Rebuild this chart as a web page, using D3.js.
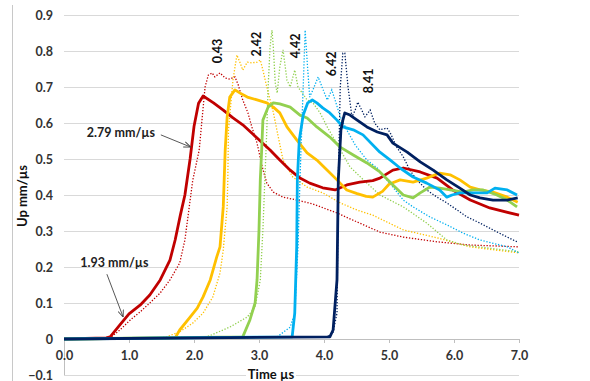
<!DOCTYPE html>
<html>
<head>
<meta charset="utf-8">
<script src="https://cdn.jsdelivr.net/npm/d3@7"></script>
<style>
  body { margin: 0; background: #fff; }
  text { font-family: Lato, "Open Sans", sans-serif; font-weight: bold; }
</style>
</head>
<body>
<div id="chart"></div>
<script>
// time (us), particle velocity (mm/us)
var red = [[0,0],[0.65,0.003],[0.71,0.006],[0.86,0.039],[1.0,0.07],[1.17,0.094],[1.32,0.122],[1.48,0.164],[1.63,0.219],[1.71,0.275],[1.79,0.344],[1.86,0.40],[1.94,0.50],[2.0,0.59],[2.07,0.655],[2.14,0.675],[2.3,0.656],[2.45,0.636],[2.6,0.614],[2.75,0.595],[2.9,0.57],[3.02,0.55],[3.17,0.525],[3.32,0.497],[3.48,0.469],[3.63,0.447],[3.78,0.433],[3.98,0.42],[4.17,0.414],[4.35,0.428],[4.55,0.436],[4.75,0.44],[4.86,0.447],[5.06,0.469],[5.22,0.475],[5.48,0.464],[5.74,0.447],[5.98,0.414],[6.25,0.386],[6.55,0.364],[7.0,0.344]];
var redSim = [[0,0],[0.71,0.003],[0.86,0.025],[1.02,0.053],[1.17,0.075],[1.32,0.1],[1.48,0.128],[1.63,0.164],[1.78,0.211],[1.86,0.275],[1.98,0.44],[2.08,0.525],[2.17,0.7],[2.22,0.733],[2.28,0.739],[2.32,0.728],[2.4,0.739],[2.48,0.725],[2.55,0.722],[2.63,0.728],[2.68,0.706],[2.75,0.664],[2.83,0.628],[2.89,0.589],[2.97,0.544],[3.05,0.478],[3.12,0.433],[3.22,0.408],[3.37,0.394],[3.58,0.386],[3.83,0.375],[4.2,0.35],[4.51,0.325],[4.86,0.297],[5.22,0.283],[5.74,0.27],[6.25,0.261],[7.0,0.256]];
var yellow = [[0,0],[1.71,0.003],[1.78,0.025],[1.94,0.061],[2.05,0.086],[2.14,0.117],[2.25,0.164],[2.35,0.228],[2.4,0.256],[2.45,0.367],[2.48,0.525],[2.51,0.617],[2.55,0.672],[2.63,0.692],[2.71,0.683],[2.82,0.672],[2.97,0.664],[3.12,0.656],[3.22,0.644],[3.32,0.628],[3.43,0.589],[3.58,0.553],[3.74,0.517],[3.89,0.497],[4.05,0.469],[4.2,0.442],[4.35,0.414],[4.51,0.404],[4.65,0.396],[4.75,0.394],[4.9,0.41],[5.0,0.43],[5.17,0.442],[5.37,0.436],[5.58,0.447],[5.78,0.461],[5.94,0.456],[6.09,0.442],[6.25,0.422],[6.4,0.414],[6.6,0.408],[6.82,0.394],[6.98,0.38]];
var yellowSim = [[0,0],[1.5,0.003],[1.58,0.006],[1.78,0.02],[1.98,0.044],[2.14,0.072],[2.29,0.117],[2.4,0.183],[2.45,0.247],[2.51,0.367],[2.52,0.442],[2.53,0.58],[2.6,0.72],[2.66,0.789],[2.71,0.767],[2.75,0.747],[2.82,0.769],[2.89,0.767],[2.97,0.769],[3.02,0.775],[3.06,0.747],[3.12,0.7],[3.22,0.63],[3.29,0.567],[3.37,0.497],[3.52,0.45],[3.74,0.422],[3.98,0.406],[4.25,0.378],[4.51,0.358],[4.75,0.344],[5.22,0.303],[5.74,0.281],[6.25,0.256],[7.0,0.239]];
var green = [[0,0],[2.75,0.006],[2.86,0.053],[2.94,0.1],[2.97,0.164],[3.0,0.303],[3.02,0.442],[3.04,0.52],[3.06,0.608],[3.14,0.644],[3.22,0.656],[3.32,0.653],[3.48,0.644],[3.63,0.622],[3.74,0.614],[3.89,0.589],[4.09,0.561],[4.25,0.533],[4.45,0.511],[4.66,0.489],[4.86,0.464],[5.06,0.428],[5.22,0.4],[5.37,0.392],[5.48,0.406],[5.63,0.422],[5.78,0.419],[5.94,0.414],[6.14,0.408],[6.29,0.414],[6.45,0.414],[6.66,0.4],[6.82,0.386],[6.97,0.367]];
var greenSim = [[0,0],[2.2,0.006],[2.55,0.033],[2.82,0.061],[2.94,0.089],[3.02,0.164],[3.06,0.303],[3.09,0.442],[3.12,0.58],[3.14,0.7],[3.17,0.811],[3.2,0.858],[3.22,0.811],[3.25,0.711],[3.28,0.683],[3.32,0.756],[3.37,0.803],[3.43,0.719],[3.48,0.7],[3.55,0.747],[3.6,0.7],[3.74,0.664],[3.83,0.656],[3.94,0.628],[4.05,0.589],[4.14,0.561],[4.4,0.478],[4.66,0.433],[4.86,0.4],[5.22,0.367],[5.58,0.322],[5.89,0.275],[6.14,0.261],[6.51,0.253],[7.0,0.242]];
var blue = [[0,0],[3.51,0.006],[3.55,0.072],[3.58,0.256],[3.59,0.442],[3.62,0.553],[3.68,0.622],[3.75,0.656],[3.82,0.664],[3.89,0.656],[3.98,0.642],[4.09,0.628],[4.2,0.608],[4.29,0.589],[4.45,0.581],[4.6,0.567],[4.86,0.519],[5.02,0.497],[5.17,0.475],[5.37,0.45],[5.58,0.433],[5.78,0.414],[5.89,0.394],[5.97,0.4],[6.09,0.406],[6.29,0.406],[6.51,0.406],[6.63,0.419],[6.82,0.414],[6.97,0.4]];
var blueSim = [[0,0],[3.28,0.006],[3.48,0.033],[3.55,0.072],[3.6,0.256],[3.63,0.442],[3.68,0.7],[3.71,0.858],[3.75,0.747],[3.78,0.672],[3.83,0.692],[3.91,0.728],[3.97,0.7],[4.05,0.664],[4.12,0.692],[4.17,0.664],[4.25,0.617],[4.35,0.581],[4.48,0.539],[4.66,0.497],[4.82,0.475],[4.94,0.447],[5.06,0.422],[5.22,0.386],[5.37,0.367],[5.63,0.339],[5.89,0.317],[6.14,0.294],[6.4,0.275],[6.82,0.256],[7.0,0.239]];
var navy = [[0,0],[4.09,0.006],[4.14,0.025],[4.2,0.164],[4.22,0.442],[4.26,0.58],[4.29,0.608],[4.32,0.628],[4.4,0.622],[4.51,0.608],[4.66,0.589],[4.82,0.575],[4.97,0.567],[5.06,0.544],[5.28,0.519],[5.48,0.492],[5.68,0.469],[5.89,0.442],[6.09,0.419],[6.25,0.4],[6.4,0.392],[6.6,0.386],[6.82,0.386],[6.98,0.392]];
var navySim = [[0,0],[4.05,0.006],[4.14,0.019],[4.2,0.072],[4.22,0.442],[4.25,0.7],[4.29,0.794],[4.32,0.794],[4.37,0.7],[4.43,0.617],[4.48,0.636],[4.52,0.658],[4.58,0.636],[4.63,0.617],[4.71,0.636],[4.78,0.6],[4.86,0.581],[4.97,0.586],[5.02,0.572],[5.12,0.533],[5.22,0.506],[5.32,0.469],[5.43,0.442],[5.58,0.414],[5.74,0.394],[5.89,0.378],[6.05,0.358],[6.2,0.339],[6.4,0.322],[6.6,0.303],[6.82,0.283],[6.98,0.269]];

var gaugeLabels = ["0.43", "2.42", "4.42", "6.42", "8.41"];
var gaugeLabelPos = [[2.37, 0.80], [2.97, 0.819], [3.57, 0.814], [4.12, 0.764], [4.69, 0.717]];
var xTicks = [0, 1, 2, 3, 4, 5, 6, 7];
var yTicks = [-0.1, 0, 0.1, 0.2, 0.3, 0.4, 0.5, 0.6, 0.7, 0.8, 0.9];

var colors = ["#c00000", "#ffc000", "#92d050", "#00b0f0", "#002060"];
var simSeries = [redSim, yellowSim, greenSim, blueSim, navySim];
var expSeries = [red, yellow, green, blue, navy];

var W = 590, H = 381;
var margin = {top: 15, left: 64};
var pw = 455, ph = 360;

var svg = d3.select("#chart").append("svg")
  .attr("width", W).attr("height", H);

// outer frame line on the left
svg.append("line")
  .attr("x1", 12.5).attr("x2", 12.5).attr("y1", 5).attr("y2", H)
  .attr("stroke", "#c8c8c8");

var g = svg.append("g")
  .attr("transform", "translate(" + margin.left + "," + margin.top + ")");

var x = d3.scaleLinear().domain([0, 7]).range([0, pw]);
var y = d3.scaleLinear().domain([-0.1, 0.9]).range([ph, 0]);

// y gridlines + labels
var yAxis = g.append("g")
  .call(d3.axisLeft(y).tickValues(yTicks).tickSize(-pw).tickPadding(11)
    .tickFormat(function(d){ return Math.abs(d) < 1e-9 ? "0" : d3.format(".1f")(d); }));
yAxis.select(".domain").remove();
yAxis.selectAll(".tick line").attr("stroke", "#d9d9d9").attr("stroke-width", 1.2);
yAxis.selectAll(".tick text").attr("fill", "#333").style("font-size", "12.5px");

// little vertical axis stub below zero
g.append("line")
  .attr("x1", 0.5).attr("x2", 0.5).attr("y1", y(0)).attr("y2", y(-0.1))
  .attr("stroke", "#bfbfbf");

// x axis on the zero line
var xAxis = g.append("g")
  .attr("transform", "translate(0," + y(0) + ")")
  .call(d3.axisBottom(x).tickValues(xTicks).tickSize(4).tickPadding(8).tickFormat(d3.format(".1f")));
xAxis.select(".domain").attr("stroke", "#bfbfbf");
xAxis.selectAll(".tick line").attr("stroke", "#bfbfbf");
xAxis.selectAll(".tick text").attr("fill", "#333").style("font-size", "12.5px");

var line = d3.line()
  .x(function(d){ return x(d[0]); })
  .y(function(d){ return y(d[1]); });

// simulations: dotted
g.selectAll(".sim")
  .data(simSeries)
  .enter().append("path")
  .attr("class", "sim")
  .attr("d", line)
  .attr("fill", "none")
  .attr("stroke", function(d, i){ return colors[i]; })
  .attr("stroke-width", 1.3)
  .attr("stroke-dasharray", "1.3,1.7");

// experiments: thick
g.selectAll(".exp")
  .data(expSeries)
  .enter().append("path")
  .attr("class", "exp")
  .attr("d", line)
  .attr("fill", "none")
  .attr("stroke", function(d, i){ return colors[i]; })
  .attr("stroke-width", 2.8)
  .attr("stroke-linejoin", "round");

// gauge position labels (rotated)
g.selectAll(".glab")
  .data(gaugeLabels)
  .enter().append("text")
  .attr("class", "glab")
  .attr("text-anchor", "middle")
  .attr("transform", function(d, i){
    return "translate(" + x(gaugeLabelPos[i][0]) + "," + y(gaugeLabelPos[i][1]) + ")rotate(-90)";
  })
  .attr("dy", "0.35em")
  .attr("fill", "#111")
  .style("font-size", "12.5px")
  .text(function(d){ return d; });

// arrows
svg.append("defs").append("marker")
  .attr("id", "arr")
  .attr("viewBox", "0 -5 10 10")
  .attr("refX", 10).attr("refY", 0)
  .attr("markerWidth", 7).attr("markerHeight", 7)
  .attr("markerUnits", "userSpaceOnUse")
  .attr("orient", "auto")
  .append("path")
  .attr("d", "M0,-4L10,0L0,4")
  .attr("fill", "none")
  .attr("stroke", "#444")
  .attr("stroke-width", 1.3);

var notes = [
  {text: "2.79 mm/\u00b5s", tx: 0.35, ty: 0.572, x1: 1.49, y1: 0.567, x2: 1.95, y2: 0.533},
  {text: "1.93 mm/\u00b5s", tx: 0.25, ty: 0.211, x1: 0.66, y1: 0.18, x2: 0.91, y2: 0.061}
];
notes.forEach(function(n){
  g.append("text")
    .attr("x", x(n.tx)).attr("y", y(n.ty))
    .attr("dy", "0.35em")
    .attr("fill", "#222")
    .style("font-size", "12.5px")
    .text(n.text);
  g.append("line")
    .attr("x1", x(n.x1)).attr("y1", y(n.y1))
    .attr("x2", x(n.x2)).attr("y2", y(n.y2))
    .attr("stroke", "#444").attr("stroke-width", 0.9)
    .attr("marker-end", "url(#arr)");
});

// axis titles
svg.append("text")
  .attr("text-anchor", "middle")
  .attr("transform", "translate(22,196)rotate(-90)")
  .attr("dy", "0.35em")
  .attr("fill", "#111")
  .style("font-size", "13px")
  .text("Up mm/\u00b5s");

var tt = svg.append("g").attr("transform", "translate(271,374)");
tt.append("rect").attr("x", -25).attr("y", -7).attr("width", 50).attr("height", 14).attr("fill", "#fff");
tt.append("text")
  .attr("text-anchor", "middle")
  .attr("dy", "0.35em")
  .attr("fill", "#111")
  .style("font-size", "13px")
  .text("Time \u00b5s");
</script>
</body>
</html>
